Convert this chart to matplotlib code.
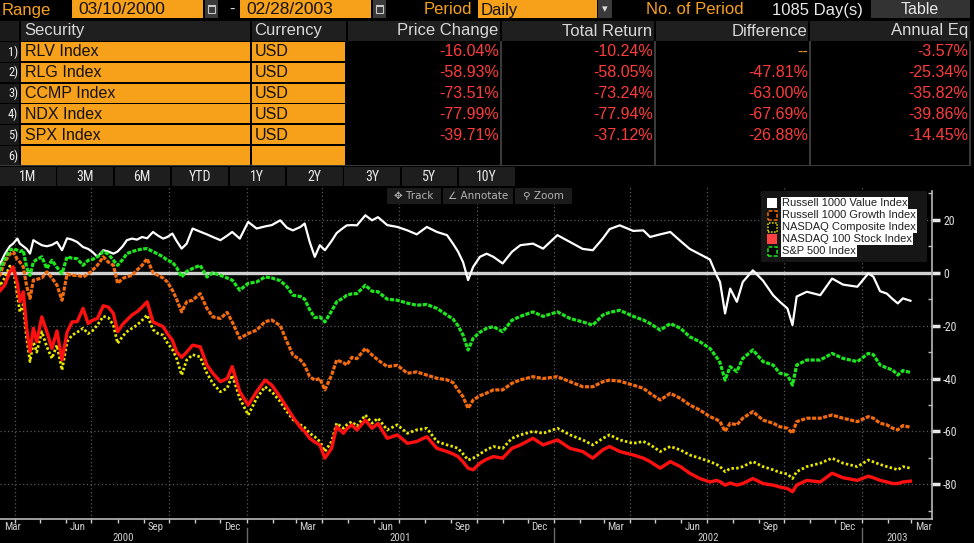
import matplotlib
matplotlib.use("Agg")
import matplotlib.pyplot as plt
import matplotlib.dates as mdates
from matplotlib.patches import Rectangle
from matplotlib import transforms, font_manager
import pandas as pd

# ---- data (cumulative % change since 03/10/2000)
start_date = "2000-03-10"
days = [0, 4, 10, 16, 20, 25, 28, 32, 36, 40, 44, 48, 54, 60, 66, 72, 78, 84, 90, 96, 103,
        109, 114, 120, 127, 133, 139, 144, 150, 155, 161, 167, 173, 179, 186, 192, 198, 203, 209, 214, 220,
        226, 233, 242, 250, 257, 266, 274, 280, 289, 299, 309, 319, 327, 337, 345, 352, 361, 366, 372, 378,
        384, 390, 398, 404, 412, 416, 422, 428, 438, 446, 453, 464, 476, 488, 499, 511, 523, 535, 542, 548,
        554, 560, 566, 574, 582, 590, 601, 612, 622, 637, 649, 666, 681, 696, 708, 720, 728, 740, 756, 768,
        776, 788, 800, 812, 823, 835, 847, 855, 859, 865, 871, 879, 886, 898, 910, 922, 930, 939, 945, 950,
        962, 978, 992, 1005, 1022, 1035, 1041, 1049, 1057, 1064, 1070, 1076, 1085]

rlv = [0,
       3, 7, 10, 11, 12.9, 11, 10, 9, 7.2, 12.3,
       11.5, 10.4, 10, 10.5, 11.6, 8.5, 13, 12.5, 11.6, 9.7,
       9, 7.9, 6, 8.5, 8, 7.2, 8, 10, 12.3, 12.9,
       12.5, 13.5, 13, 15.4, 14, 12.9, 13.5, 14.8, 12, 9.1,
       11, 16.7, 15.5, 14.5, 13.5, 12.3, 14, 15.4, 12.9, 19.2,
       16.7, 17.5, 18, 19.8, 17, 16, 17.3, 18.6, 11.6, 6,
       10.4, 8.5, 12, 15, 17, 17.9, 18, 17.9, 21.7, 19.8,
       21, 18, 17.3, 16, 14.5, 17.3, 15.4, 14.2, 11, 8,
       4, -2.8, 2.2, 6, 7.2, 6, 3.5, 7.9, 10.4, 11,
       9.1, 14.2, 11.6, 9, 8.5, 13, 16.5, 17.9, 15.8, 16,
       13.5, 14.5, 15.4, 12, 9, 7, 5, -1, -3.5, -15.4,
       -6, -11, -3.5, 0.9, -3, -8.5, -11, -13.5, -19.8, -9,
       -7.2, -8.5, -2.2, -4.5, -5.3, -0.3, -1.5, -7, -7.9, -10,
       -11.6, -9.7, -10.6]

rlg = [0,
       -1, 4, 7, 7.9, 5, 4, 2.2, -5, -9.7, -2.8,
       -2.5, -2, 0.3, -2, -4.7, -10.4, -0.5, -1, -1, -1.6,
       -0.5, 0.9, 2.8, 6, 4, 2.8, -4, -2.2, -1.5, -1,
       1, 2.8, 5.3, 0, -1, -2, -3.5, -6.6, -10, -14.8,
       -11, -10.4, -7.9, -13.5, -16.7, -17.3, -15, -18.6, -24.8, -23,
       -21.7, -18.5, -17.9, -20, -26.1, -31.1, -33, -35, -39.3, -40.6,
       -40, -44.3, -38.7, -33, -34, -34.9, -32, -32.5, -28.6, -31.1,
       -33, -35.5, -35, -38, -37.5, -38.7, -39.9, -40.5, -41.5, -44.3,
       -46.9, -51.3, -48.1, -46.5, -45.5, -44.3, -44.3, -41.8, -40.5, -39.3,
       -40, -39.3, -41.2, -43.1, -43.1, -41.2, -40.6, -41, -42.5, -43.7,
       -45.6, -48.1, -45.6, -47.5, -50, -51.9, -54.4, -55.5, -56.3, -60,
       -56.9, -57.5, -55, -52.5, -55.7, -56.9, -58.2, -58.8, -60.7, -56.3,
       -55, -55, -53.8, -55, -56.3, -54.4, -55, -56.9, -57.5, -58.8,
       -59.4, -57.8, -58.4]

ccmp = [0,
        -5, -2, 2.5, 2, -8.5, -14.8, -12, -24.8, -33.6, -26.1,
        -30, -22.3, -28, -32.4, -27.4, -36.8, -26.1, -23.6, -22.5, -21,
        -23, -22, -19.8, -16.5, -17, -19.8, -26.7, -24, -22.3, -21,
        -19.8, -18, -16, -21.5, -23, -23.6, -26.5, -29, -32.4, -38.7,
        -33, -31, -31.8, -38, -41.8, -45, -43.7, -38.7, -47.5, -53.8,
        -47.5, -43.1, -45, -48.7, -52.5, -55.5, -57.5, -58.5, -60.7, -62,
        -63.8, -67.6, -63.8, -56.9, -58.8, -57.5, -56.3, -58, -53.8, -56.9,
        -55, -59.4, -57.5, -60.7, -59.4, -58.8, -63.8, -65.1, -65.7, -66.4,
        -68.5, -70.8, -70.1, -68.5, -66.9, -65.7, -66.4, -62.6, -61.3, -60,
        -60.7, -58.8, -61.3, -63.2, -65.1, -62.6, -61.3, -63.2, -64.5, -63.8,
        -65, -67.6, -65.7, -67, -68.9, -70.1, -71.4, -72.5, -73.3, -75.2,
        -74, -73.9, -73.3, -71.4, -73.3, -74.5, -75.5, -76.1, -77.8, -75.2,
        -73.3, -72, -70.1, -72, -73.3, -70.8, -71.5, -72.5, -73.3, -73.9,
        -74.5, -73.3, -73.9]

ndx = [0,
       -7, -4.7, 0.3, 2.2, -4, -11, -7.2, -21, -29.9, -21,
       -26.1, -16.7, -22.3, -28.6, -22, -33, -22.5, -18.6, -18.5, -13.5,
       -19.2, -18, -17.3, -12.5, -13, -15.4, -22.3, -19.5, -17.9, -16,
       -14.8, -13, -11, -18.6, -19.5, -20.4, -23, -25.5, -29.9, -32,
       -30, -27.4, -28, -34.9, -38, -41.2, -40, -35.5, -45, -50,
       -45, -40.6, -42.5, -47, -51, -54.5, -58.5, -60, -62.6, -64,
       -65.1, -70.1, -66.4, -58.2, -60.7, -59, -57.5, -59.5, -55.7, -58.8,
       -57, -62.6, -61.3, -64.5, -63.8, -62, -66.4, -67.6, -68.5, -69.5,
       -71.5, -73.9, -74.5, -72, -70.5, -69.5, -70.1, -66.4, -65.1, -62.6,
       -65.1, -63.2, -66.4, -67.6, -70.1, -66.9, -65.7, -67.6, -68.9, -70.1,
       -71.4, -73.9, -71.4, -73.3, -75.8, -77.8, -79.1, -78.5, -79, -80.3,
       -79.5, -80.3, -79.7, -77.8, -79.7, -80.3, -81, -81.6, -82.8, -80.3,
       -78.5, -79.1, -75.8, -77.5, -78.5, -76.9, -77.5, -78.5, -79.1, -79.7,
       -79.7, -79.1, -78.8]

spx = [0,
       1, 5, 8.5, 9.1, 8.5, 8, 8.5, 2, -1, 4,
       5, 6, 1.6, 4.7, 2, -0.3, 6, 5.5, 5.3, 2.8,
       4.7, 5, 6, 8, 7, 4.7, 2.8, 5, 7.2, 8,
       8.5, 9, 9.1, 8, 7, 6, 4.7, 4, 2, -1.6,
       0.5, 1.6, 2.8, -1.6, 0, -1, -2, -2.8, -6.6, -4,
       -3.5, -1.6, -2, -3, -5.3, -8.5, -9, -10, -14, -17,
       -16.7, -18.6, -14.5, -11, -9.5, -8.5, -8, -7.9, -4.7, -7,
       -7.2, -10, -10.4, -11.5, -12.3, -12, -13.5, -16, -17.5, -20,
       -23.6, -29.2, -24.8, -22.5, -21, -20.4, -22.3, -18, -16.5, -14.8,
       -16.5, -14.8, -17.3, -18.6, -19.8, -16, -15, -14.2, -16.5, -17.9,
       -19.2, -21.7, -19.2, -21, -24.2, -26.1, -28.6, -32, -34, -40.6,
       -35.5, -37.4, -32.4, -29.2, -33.6, -34.9, -38, -38.7, -42.5, -34.9,
       -33, -33, -30.5, -32.4, -33.6, -30.5, -31, -34.9, -36, -36.8,
       -38.7, -37, -37.7]

securities = ["RLV Index", "RLG Index", "CCMP Index", "NDX Index", "SPX Index"]
currency = ["USD"] * 5
price_change = ["-16.04%", "-58.93%", "-73.51%", "-77.99%", "-39.71%"]
total_return = ["-10.24%", "-58.05%", "-73.24%", "-77.94%", "-37.12%"]
difference = ["--", "-47.81%", "-63.00%", "-67.69%", "-26.88%"]
annual_eq = ["-3.57%", "-25.34%", "-35.82%", "-39.86%", "-14.45%"]
legend_names = ["Russell 1000 Value Index", "Russell 1000 Growth Index", "NASDAQ Composite Index",
                "NASDAQ 100 Stock Index", "S&P 500 Index"]
periods = ["1M", "3M", "6M", "YTD", "1Y", "2Y", "3Y", "5Y", "10Y"]

# ---- look
ORANGE = "#f7a11a"
RED_TXT = "#ff3b3b"
colors = ["#ffffff", "#f26b0f", "#e8e800", "#ff1010", "#1ee61e"]
styles = ["-", (0, (1.3, 0.45)), (0, (0.9, 0.8)), "-", (0, (1.3, 0.45))]
widths = [1.6, 2.3, 2.0, 2.4, 2.3]

plt.rcParams["font.family"] = ["Liberation Sans", "DejaVu Sans"]
installed = {f.name for f in font_manager.fontManager.ttflist}
NARROW = "DejaVu Sans"
for cand in ["Liberation Sans Narrow", "Roboto Condensed", "Open Sans Condensed"]:
    if cand in installed:
        NARROW = cand
        break

W, H = 974, 543
fig = plt.figure(figsize=(W / 100, H / 100), dpi=100, facecolor="black")


def fx(x):
    return x / W


def fy(y):
    return 1 - y / H


def box(x0, y0, x1, y1, color, ec="none", lw=0, ls="-"):
    fig.add_artist(Rectangle((fx(x0), fy(y1)), (x1 - x0) / W, (y1 - y0) / H,
                             transform=fig.transFigure, facecolor=color,
                             edgecolor=ec, linewidth=lw, linestyle=ls))


def label(x, y, s, **kw):
    kw.setdefault("va", "center")
    fig.text(fx(x), fy(y), s, **kw)


# ---- top bar
label(2, 10, "Range", color=ORANGE, size=12)
box(72, 0, 203, 18, ORANGE)
label(78, 10, "03/10/2000", color="#111111", size=12.5)
label(229, 9, "-", color="#dddddd", size=12)
box(240, 0, 371, 18, ORANGE)
label(246, 10, "02/28/2003", color="#111111", size=12.5)
for cx in (205, 373):
    box(cx, 0, cx + 13, 18, "#3a3a3a")
    box(cx + 3, 5, cx + 10, 13, "none", ec="#c8c8c8", lw=0.8)
    box(cx + 3, 5, cx + 10, 7, "#c8c8c8")
label(424, 10, "Period", color=ORANGE, size=12)
box(478, 0, 597, 18, ORANGE)
label(481, 10, "Daily", color="#111111", size=12)
box(598, 0, 612, 18, "#3a3a3a")
label(605, 9, "\u25be", color="#dddddd", size=8, ha="center", family="DejaVu Sans")
label(646, 10, "No. of Period", color=ORANGE, size=12)
label(772, 10, "1085 Day(s)", color="#e8e8e8", size=12)
box(871, 0, 970, 18, "#333333")
label(920, 9, "Table", color="#e8e8e8", size=11.5, ha="center")

# ---- table
cells = [(21, 250), (252, 346), (348, 500), (502, 654), (656, 808), (810, 970)]
box(0, 21, 19, 41, "#1a1a1a")
for a, b in cells:
    box(a, 21, b, 41, "#1f1f1f")
label(24, 31, "Security", color="#d8d8d8", size=12)
label(254, 31, "Currency", color="#d8d8d8", size=12)
for xr, head in zip([498, 652, 807, 968], ["Price Change", "Total Return", "Difference", "Annual Eq"]):
    label(xr, 31, head, color="#d8d8d8", size=12, ha="right")

for i in range(6):
    y0 = 42 + i * 20.8
    yc = y0 + 10
    box(0, y0, 19, y0 + 19.5, "#1a1a1a")
    box(21, y0, 250, y0 + 19, ORANGE)
    box(252, y0, 345, y0 + 19, ORANGE)
    label(18, yc, f"{i + 1})", color="#f0f0f0", size=9, ha="right", family=NARROW)
    if i < 5:
        label(25, yc, securities[i], color="#111111", size=11.5)
        label(255, yc, currency[i], color="#111111", size=11.5)
        vals = [price_change[i], total_return[i], difference[i], annual_eq[i]]
        for xr, v in zip([499, 653, 808, 968], vals):
            label(xr, yc, v, color=ORANGE if v == "--" else RED_TXT, size=11.5, ha="right")
for xv in (501, 655, 810, 970):
    box(xv - 0.7, 41, xv + 0.7, 166, "#3a3a3a")
box(0, 165, 971, 166.5, "#3a3a3a")

# ---- period buttons
for i, p in enumerate(periods):
    a = i * 57.4
    box(a, 167, a + 55.5, 186, "#1e1e1e")
    label(a + 27.5, 177, p, color="#e8e8e8", size=10, ha="center", family=NARROW)

# ---- chart
t0 = pd.Timestamp(start_date)
dates = t0 + pd.to_timedelta(days, unit="D")
series = [rlv, rlg, ccmp, ndx, spx]

ax = fig.add_axes([0, fy(519), fx(932), (519 - 187) / H])
ax.set_facecolor("black")
ax.set_xlim(t0 + pd.Timedelta(days=4.4), t0 + pd.Timedelta(days=1110.6))
ax.set_ylim(-93.1, 32.4)

for q in pd.date_range("2000-04-01", "2003-01-01", freq="QS"):
    ax.axvline(q, color="#585858", lw=0.9, ls=(0, (1, 2)), zorder=1)
for g in (20, -20, -40, -60, -80):
    ax.axhline(g, color="#585858", lw=0.9, ls=(0, (1, 2)), zorder=1)
ax.axhline(0, color="#d0d0d0", lw=2.4, zorder=2)

for vals, c, ls, lw in zip(series, colors, styles, widths):
    ax.plot(dates, vals, color=c, ls=ls, lw=lw, zorder=3, solid_joinstyle="round")

for s in ("top", "left"):
    ax.spines[s].set_visible(False)
for s in ("bottom", "right"):
    ax.spines[s].set_color("#b8b8b8")
    ax.spines[s].set_linewidth(1.2)
ax.spines["right"].set_bounds(-93.1, 31)

ax.set_xticks([])
ax.xaxis.set_minor_locator(mdates.MonthLocator())
ax.tick_params(axis="x", which="minor", length=3, width=1, color="#cccccc", direction="out")

ax.yaxis.tick_right()
yt = [20, 0, -20, -40, -60, -80]
ax.set_yticks(yt)
ax.set_yticklabels([str(v) for v in yt], family=NARROW)
ax.set_yticks(list(range(-90, 31, 10)), minor=True)
ax.tick_params(axis="y", which="major", length=6, width=2.5, color="#e8e8e8",
               labelcolor="#e0e0e0", labelsize=8.5, pad=2)
ax.tick_params(axis="y", which="minor", length=3, width=1, color="#b8b8b8", direction="in")

# month / year labels under the axis
xf = transforms.blended_transform_factory(ax.transData, fig.transFigure)
left_lim = mdates.num2date(ax.get_xlim()[0]).replace(tzinfo=None)
right_lim = mdates.num2date(ax.get_xlim()[1]).replace(tzinfo=None)
for yr in range(2000, 2004):
    for m, name in zip((3, 6, 9, 12), ("Mar", "Jun", "Sep", "Dec")):
        d = pd.Timestamp(yr, m, 15)
        if d > pd.Timestamp(right_lim):
            continue
        if d < pd.Timestamp(left_lim) + pd.Timedelta(days=8):
            fig.text(fx(4), fy(527), name, color="#d0d0d0", size=7.8, family=NARROW, va="center")
        else:
            ax.text(d, fy(527), name, transform=xf, color="#d0d0d0", size=7.8, family=NARROW,
                    ha="center", va="center", clip_on=False)
for yr in range(2000, 2004):
    a = max(pd.Timestamp(yr, 1, 1), pd.Timestamp(left_lim))
    b = min(pd.Timestamp(yr + 1, 1, 1), pd.Timestamp(right_lim))
    ax.text(a + (b - a) / 2, fy(538), str(yr), transform=xf, color="#d0d0d0", size=7.8,
            family=NARROW, ha="center", va="center", clip_on=False)
    if yr > 2000:
        ax.plot([pd.Timestamp(yr, 1, 1)] * 2, [fy(528), fy(543)], transform=xf,
                color="#6a6a6a", lw=1, clip_on=False)

# toolbar inside chart
for (a, b), s in zip([(387, 441), (443, 513), (515, 572)],
                     ["\u2725 Track", "\u2220 Annotate", "\u26b2 Zoom"]):
    box(a, 188, b, 204, "#1b1b1b")
    label((a + b) / 2, 196, s, color="#b4b4b4", size=7.5, ha="center", family=["DejaVu Sans"])

# legend
box(761, 191, 927, 262, "#161616")
for i, (name, c) in enumerate(zip(legend_names, colors)):
    yc = 203 + i * 12
    if i in (0, 3):
        box(767, yc - 5, 777, yc + 5, "#ff4040" if i == 3 else c)
    else:
        box(767.5, yc - 4.5, 776.5, yc + 4.5, "black", ec=c, lw=1.1,
            ls=(0, (1, 1)) if i == 2 else (0, (2.5, 1.2)))
    label(782, yc, name, color="#202020", size=8,
          bbox=dict(facecolor="white", edgecolor="none", pad=0.6))

fig.savefig("out.png", dpi=100, facecolor="black")
